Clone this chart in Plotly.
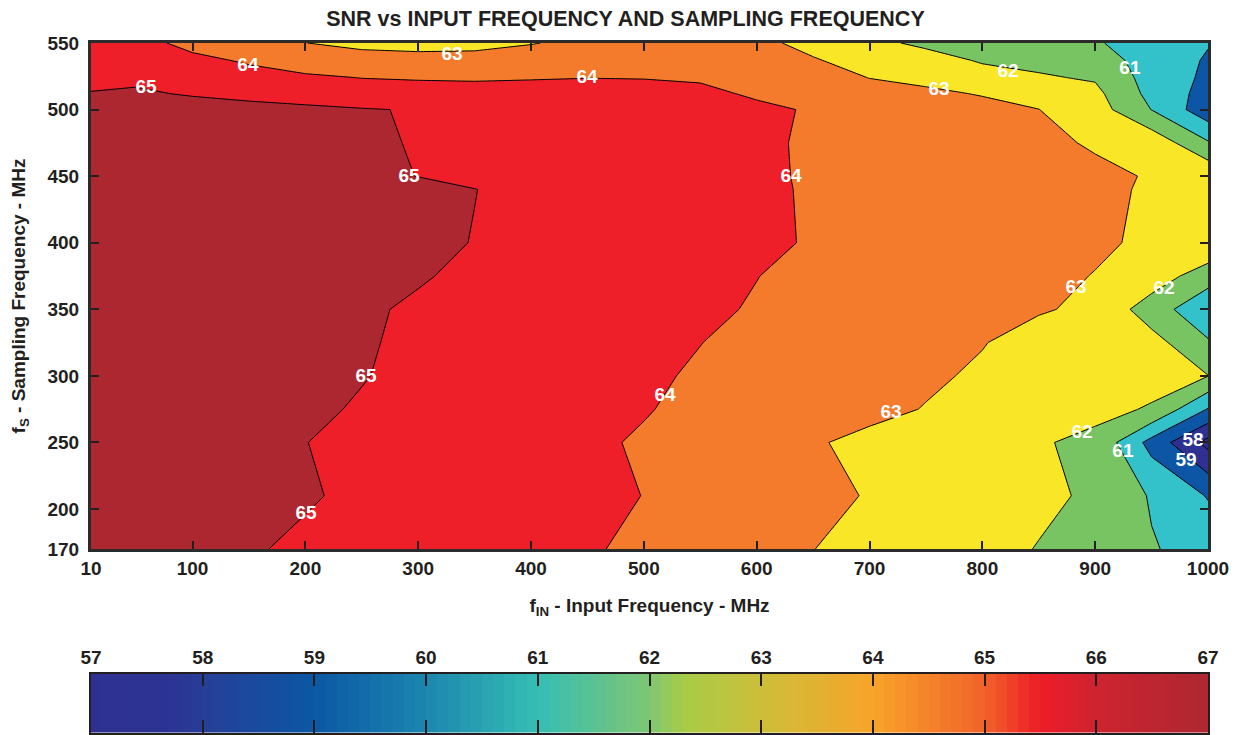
import numpy as np
import plotly.graph_objects as go

# ---------------- data ----------------
fin_mhz = [10, 50, 100, 150, 200, 250, 300, 350, 400, 450, 500,
           550, 600, 650, 700, 750, 800, 850, 900, 950, 1000]
fs_mhz = [170, 210, 250, 275, 300, 325, 350, 375, 400, 440, 450,
          475, 500, 512, 524, 537, 550]

# SNR (dB), one row per sampling frequency (fs_mhz), one column per input frequency (fin_mhz)
snr_db = [
    [65.52, 65.39, 65.22, 65.06, 64.89, 64.72, 64.56, 64.39, 64.23, 64.06, 63.88, 63.56, 63.29, 63.01, 62.76, 62.50, 62.24, 61.97, 61.52, 61.07, 60.61],  # 170
    [65.73, 65.59, 65.41, 65.24, 65.06, 64.88, 64.71, 64.53, 64.35, 64.17, 63.99, 63.74, 63.48, 63.22, 62.95, 62.69, 62.42, 62.15, 61.89, 60.91, 59.94],  # 210
    [65.67, 65.53, 65.35, 65.18, 65.01, 64.82, 64.65, 64.47, 64.29, 64.11, 63.93, 63.63, 63.35, 63.07, 62.82, 62.57, 62.32, 62.07, 61.82, 59.66, 57.70],  # 250
    [65.80, 65.66, 65.48, 65.30, 65.12, 64.94, 64.76, 64.58, 64.40, 64.22, 64.04, 63.84, 63.62, 63.41, 63.19, 62.97, 62.71, 62.46, 62.19, 61.94, 59.95],  # 275
    [65.90, 65.76, 65.58, 65.39, 65.21, 65.03, 64.84, 64.66, 64.48, 64.29, 64.11, 63.92, 63.72, 63.52, 63.31, 63.11, 62.90, 62.68, 62.46, 62.24, 62.02],  # 300
    [65.90, 65.76, 65.58, 65.41, 65.23, 65.06, 64.88, 64.71, 64.53, 64.36, 64.18, 64.01, 63.81, 63.62, 63.42, 63.23, 63.03, 62.73, 62.41, 62.37, 61.10],  # 325
    [65.86, 65.73, 65.57, 65.41, 65.25, 65.08, 64.92, 64.76, 64.60, 64.44, 64.28, 64.11, 63.95, 63.77, 63.59, 63.41, 63.23, 63.06, 62.87, 61.46, 60.30],  # 350
    [66.05, 65.91, 65.74, 65.57, 65.40, 65.22, 65.05, 64.88, 64.71, 64.53, 64.36, 64.19, 64.01, 63.84, 63.67, 63.50, 63.32, 63.15, 62.98, 62.60, 61.41],  # 375
    [66.15, 66.01, 65.84, 65.67, 65.50, 65.32, 65.15, 64.98, 64.81, 64.64, 64.47, 64.29, 64.12, 63.95, 63.78, 63.60, 63.43, 63.26, 63.09, 62.90, 62.95],  # 400
    [66.20, 66.06, 65.89, 65.71, 65.53, 65.35, 65.18, 65.01, 64.82, 64.65, 64.47, 64.29, 64.11, 63.94, 63.77, 63.61, 63.44, 63.28, 63.11, 62.94, 62.90],  # 440
    [65.85, 65.73, 65.59, 65.44, 65.29, 65.14, 64.99, 64.84, 64.69, 64.54, 64.39, 64.24, 64.09, 63.94, 63.77, 63.61, 63.44, 63.28, 63.12, 62.96, 62.83],  # 450
    [65.79, 65.68, 65.53, 65.39, 65.25, 65.10, 64.96, 64.81, 64.67, 64.52, 64.38, 64.24, 64.09, 63.93, 63.73, 63.53, 63.33, 63.13, 62.94, 62.67, 61.10],  # 475
    [65.73, 65.62, 65.48, 65.34, 65.21, 65.07, 64.93, 64.79, 64.65, 64.51, 64.37, 64.23, 64.09, 63.96, 63.73, 63.50, 63.24, 63.01, 62.45, 60.98, 59.38],  # 500
    [65.05, 65.15, 64.90, 64.70, 64.51, 64.23, 64.50, 64.40, 64.30, 64.25, 64.20, 64.10, 63.94, 63.75, 63.38, 63.15, 62.95, 62.70, 62.25, 60.70, 59.65],  # 512
    [64.70, 64.78, 64.60, 64.30, 64.08, 63.99, 63.90, 63.88, 63.95, 63.99, 63.98, 63.95, 63.70, 63.45, 62.98, 62.80, 62.40, 62.10, 61.90, 60.60, 59.82],  # 524
    [64.50, 64.55, 64.20, 63.90, 63.73, 63.40, 63.30, 63.30, 63.40, 63.60, 63.65, 63.60, 63.40, 63.08, 62.60, 62.40, 61.90, 61.75, 61.50, 60.55, 59.91],  # 537
    [64.35, 64.30, 63.75, 63.55, 63.01, 62.75, 62.70, 62.75, 62.96, 63.20, 63.35, 63.30, 63.25, 62.70, 62.25, 61.80, 61.50, 61.40, 61.10, 60.50, 60.05],  # 550
]

# contour-level labels as printed on the reference (level, fin, fs)
label_level = [65, 64, 63, 64, 63, 62, 61, 65, 64, 63, 62, 65, 64, 63, 62, 61, 58, 59, 65]
label_fin = [58.7, 149.1, 330.0, 449.6, 761.6, 822.7, 930.8, 291.8, 630.4, 883.0,
             961.0, 253.7, 518.7, 719.0, 888.3, 924.6, 986.7, 980.5, 200.6]
label_fs = [516.2, 532.7, 541.0, 523.7, 514.7, 528.2, 530.5, 449.4, 449.4, 366.0,
            365.3, 299.2, 284.9, 272.1, 257.1, 242.9, 251.1, 236.1, 196.3]

x_ticks = [10, 100, 200, 300, 400, 500, 600, 700, 800, 900, 1000]
y_ticks = [170, 200, 250, 300, 350, 400, 450, 500, 550]
cb_ticks = [57, 58, 59, 60, 61, 62, 63, 64, 65, 66, 67]

# ---------------- styles ----------------
FONT = "Liberation Sans, Arial, Helvetica, sans-serif"
DARK = "#231F20"

# fill colour of each band: <58, 58-59, ..., 64-65, >65
band_colors = ["#2B2E8C", "#2E3192", "#0C56A5", "#33C1CA", "#78C463",
               "#F8E627", "#F47B2B", "#EE1F28", "#AD2730"]
band_scale = [[i / (len(band_colors) - 1), c] for i, c in enumerate(band_colors)]

bar_scale = [
    [0.00, "#2E3192"], [0.08, "#2C3494"], [0.10, "#273E98"], [0.20, "#0B57A5"],
    [0.30, "#1C86AE"], [0.40, "#35BEB4"], [0.50, "#7FC673"], [0.53, "#A7CC47"],
    [0.60, "#CDBE3A"], [0.70, "#F7A429"], [0.80, "#F1622A"], [0.85, "#ED1C27"],
    [0.90, "#CE2430"], [1.00, "#AD2730"],
]

fig = go.Figure()

fig.add_trace(go.Contour(
    x=fin_mhz, y=fs_mhz, z=snr_db,
    autocontour=False,
    contours=dict(start=58, end=65, size=1, coloring="fill", showlabels=False),
    line=dict(color="black", width=1, smoothing=0),
    colorscale=band_scale,
    showscale=False,
    hoverinfo="skip",
    xaxis="x", yaxis="y",
))

fig.add_trace(go.Scatter(
    x=label_fin, y=label_fs, mode="text",
    text=[str(v) for v in label_level],
    textposition="middle center",
    textfont=dict(family=FONT, size=19, color="white", weight="bold"),
    hoverinfo="skip", cliponaxis=False,
    xaxis="x", yaxis="y",
))

# colour bar drawn as its own strip under the chart
cb_steps = np.round(np.arange(57.05, 67.0, 0.1), 2)
fig.add_trace(go.Heatmap(
    x=cb_steps, y=[0], z=[cb_steps],
    colorscale=bar_scale, zmin=57, zmax=67,
    showscale=False, hoverinfo="skip",
    xaxis="x2", yaxis="y2",
))

axis_font = dict(family=FONT, size=19, color=DARK, weight="bold")

# the page body adds an 8px offset, so the figure is sized/margined to compensate
fig.update_layout(
    width=1231, height=727,
    margin=dict(l=83, r=31, t=35, b=2, autoexpand=False),
    paper_bgcolor="white", plot_bgcolor="white",
    font=dict(family=FONT, size=19, color=DARK, weight="bold"),
    showlegend=False,
    title=dict(text="SNR vs INPUT FREQUENCY AND SAMPLING FREQUENCY",
               x=0.4785, xref="paper", xanchor="center",
               y=1 - 10 / 727, yref="container", yanchor="middle",
               font=dict(family=FONT, size=21.5, color=DARK, weight="bold")),
    xaxis=dict(domain=[0, 1], anchor="y", range=[10, 1000], automargin=False,
               tickmode="array", tickvals=x_ticks, ticktext=[str(v) for v in x_ticks],
               ticks="inside", ticklen=8, tickwidth=1.5, tickcolor=DARK,
               mirror="ticks", showline=True, linewidth=3, linecolor="#2B2B2B",
               showgrid=False, zeroline=False, tickfont=axis_font,
               ticklabelstandoff=0,
               title=dict(text="f<sub>IN</sub> - Input Frequency - MHz",
                          font=axis_font, standoff=21)),
    yaxis=dict(domain=[0.2667, 1], anchor="x", range=[170, 550], automargin=False,
               tickmode="array", tickvals=y_ticks, ticktext=[str(v) for v in y_ticks],
               ticks="inside", ticklen=8, tickwidth=1.5, tickcolor=DARK,
               mirror="ticks", showline=True, linewidth=3, linecolor="#2B2B2B",
               showgrid=False, zeroline=False, tickfont=axis_font,
               ticklabelstandoff=5,
               title=dict(text="f<sub>S</sub> - Sampling Frequency - MHz",
                          font=axis_font, standoff=20)),
    xaxis2=dict(domain=[0, 1], anchor="y2", range=[57, 67], side="top", automargin=False,
                tickmode="array", tickvals=cb_ticks, ticktext=[str(v) for v in cb_ticks],
                ticks="inside", ticklen=13, tickwidth=1.5, tickcolor=DARK,
                mirror="ticks", showline=True, linewidth=1.5, linecolor=DARK,
                showgrid=False, zeroline=False, tickfont=axis_font,
                ticklabelstandoff=0),
    yaxis2=dict(domain=[0, 0.0862], anchor="x2", range=[-0.5, 0.5], automargin=False,
                showticklabels=False, ticks="", showline=True, mirror=True,
                linewidth=1.5, linecolor=DARK, showgrid=False, zeroline=False),
)

fig.write_html("out.html")
